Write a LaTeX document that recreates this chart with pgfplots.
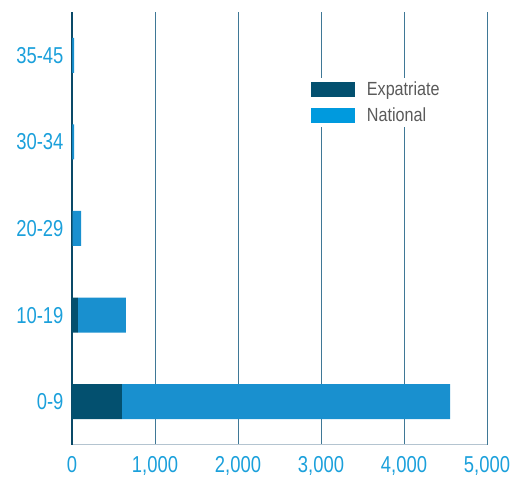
\documentclass[border=0pt]{standalone}
\usepackage{fontspec}
\setmainfont{Liberation Sans}[FakeStretch=0.8]
\newfontfamily\tickfont{Liberation Sans}[FakeStretch=0.8]
\newfontfamily\legfont{Liberation Sans}[FakeStretch=0.85]
\usepackage{pgfplots}
\pgfplotsset{compat=1.18}
\definecolor{expat}{HTML}{03506F}
\definecolor{natl}{HTML}{1990CF}
\definecolor{natlkey}{HTML}{009ADE}
\definecolor{ticktxt}{HTML}{1BA0DB}
\definecolor{gridc}{HTML}{3F7896}
\definecolor{baseline}{HTML}{B4C4D0}
\definecolor{leftline}{HTML}{0A4A68}
\definecolor{legtxt}{HTML}{5A5A5A}
\begin{document}
\begin{tikzpicture}
\begin{axis}[
  scale only axis,
  width=415pt, height=433pt,
  xbar stacked,
  bar width=35pt,
  xmin=0, xmax=5000,
  ymin=-0.5, ymax=4.5,
  ytick={0,1,2,3,4},
  yticklabels={0-9,10-19,20-29,30-34,35-45},
  xtick={0,1000,2000,3000,4000,5000},
  /pgf/number format/.cd, 1000 sep={,}, assume math mode=true,
  /pgfplots/.cd,
  scaled x ticks=false,
  major tick length=0pt,
  tick label style={font=\tickfont\fontsize{23}{23}\selectfont, text=ticktxt},
  xticklabel style={yshift=-8pt},
  yticklabel style={xshift=-5pt},
  xmajorgrids,
  major grid style={draw=gridc, line width=0.9pt},
  ymajorgrids=false,
  axis x line*=bottom,
  axis y line*=left,
  x axis line style={draw=baseline, line width=1pt, -},
  y axis line style={draw=leftline, line width=2pt, -},
  legend style={
    at={(0.568,0.848)}, anchor=north west,
    draw=none, fill=white,
    font=\legfont\fontsize{19}{19}\selectfont, text=legtxt,
    row sep=6.5pt,
    legend cell align=left,
  },
  legend image code/.code={\fill[#1] (0pt,-7.5pt) rectangle (44pt,7.5pt);},
]
\addplot[fill=expat, draw=none] coordinates {(600,0) (70,1) (5,2) (3,3) (3,4)};
\addlegendentry{\hspace{10pt}Expatriate}
\addplot[fill=natl, draw=none, legend image post style={fill=natlkey}] coordinates {(3955,0) (580,1) (105,2) (22,3) (22,4)};
\addlegendentry{\hspace{10pt}National}
\end{axis}
\path (current axis.south west) ++(-72pt,-41pt) rectangle ++(525pt,486pt);
\end{tikzpicture}
\end{document}
